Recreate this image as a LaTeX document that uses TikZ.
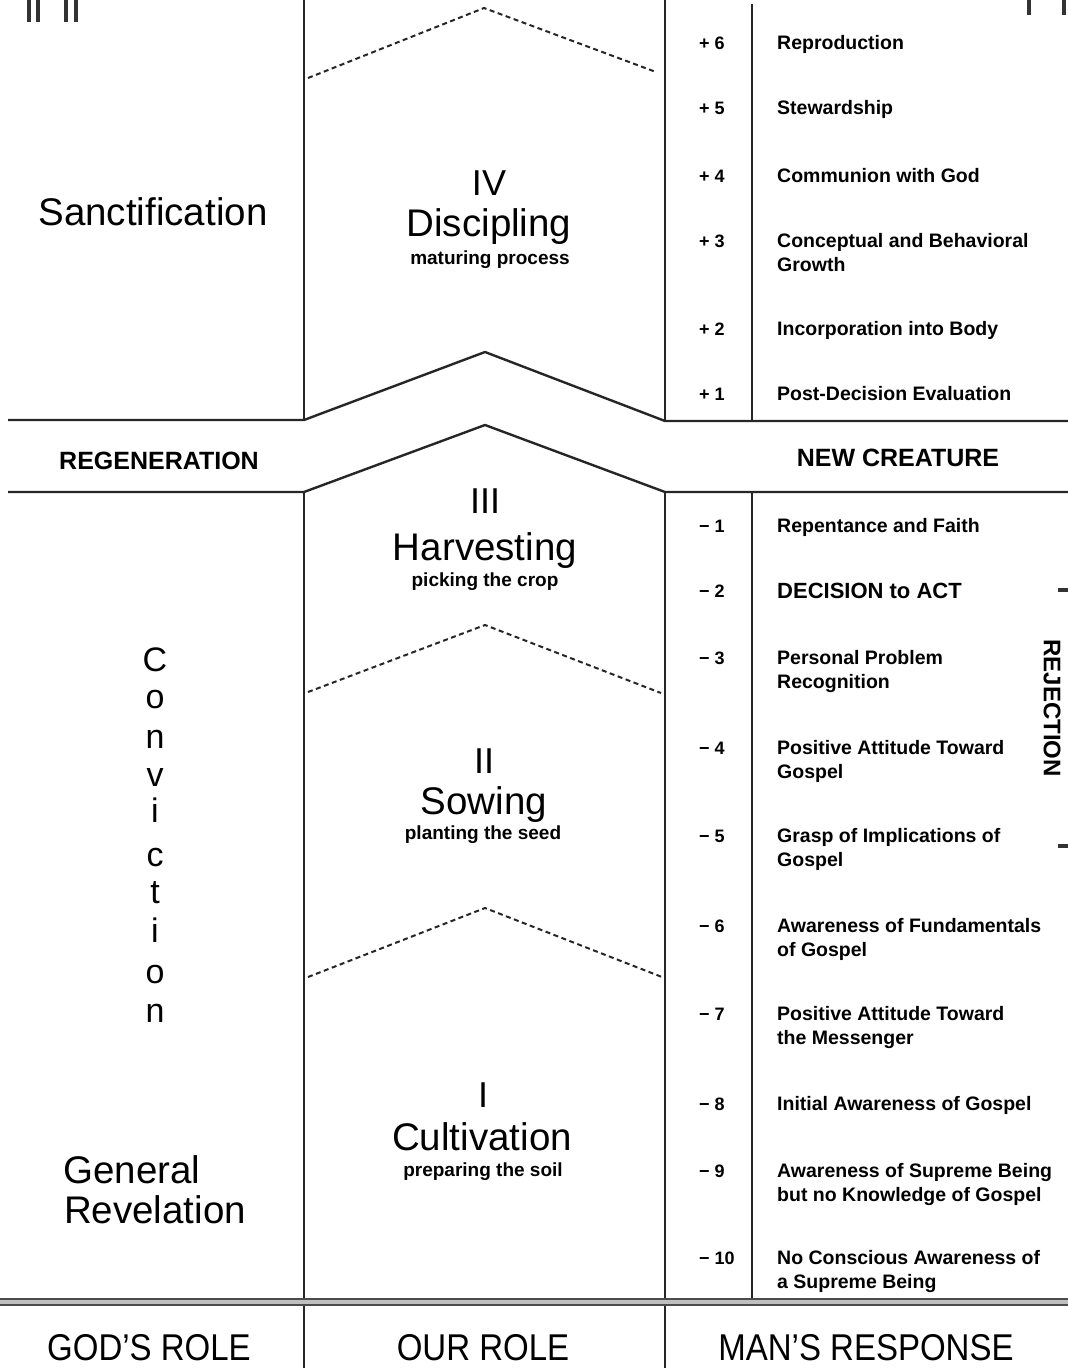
\documentclass[tikz,border=0pt]{standalone}
\usepackage{fontspec}
\setmainfont{Liberation Sans}
\newcommand\fsz[1]{\fontsize{#1}{#1}\selectfont}
\newcommand\tallr[1]{\scalebox{1}[1.13]{#1}}
\begin{document}
\begin{tikzpicture}[x=1pt,y=-1pt,
  rulel/.style={line width=2.4pt,black!85,line join=round},
  vrulel/.style={line width=1.5pt,black!85},
  dchev/.style={line width=2pt,black!85,dash pattern=on 5pt off 3.5pt},
  heavy/.style={line width=8pt,gray!50},
  bigt/.style={inner sep=0pt,anchor=base,font=\fsz{38.5}},
  rom/.style={inner sep=0pt,anchor=base,font=\fsz{36}},
  subt/.style={inner sep=0pt,anchor=base,font=\fsz{19}\bfseries},
  numt/.style={inner sep=0pt,anchor=base west,font=\fsz{18}\bfseries},
  respt/.style={inner sep=0pt,anchor=base west,font=\fsz{19.5}\bfseries},
  capt/.style={inner sep=0pt,anchor=base,font=\fsz{25}\bfseries},
  rolet/.style={inner sep=0pt,anchor=base,font=\fsz{33}},
  letc/.style={inner sep=0pt,anchor=base,font=\fsz{34}},
  tick/.style={line width=3.5pt,black!80}
]
\useasboundingbox (0,0) rectangle (1068,1368);

% ---- key coordinates
\coordinate (aTop) at (485,352); \coordinate (aBot) at (485,425);

% ---- vertical rules
\draw[vrulel] (304,0) -- (304,419);
\draw[vrulel] (665,0) -- (665,421);
\draw[vrulel] (752,4) -- (752,421);
\draw[vrulel] (304,492) -- (304,1368);
\draw[vrulel] (665,492) -- (665,1368);
\draw[vrulel] (752,492) -- (752,1302);

% ---- solid horizontal rules with chevrons
\draw[rulel] (8,420) -- (304,420) -- (aTop) -- (665,421) -- (1068,421);
\draw[rulel] (8,492) -- (304,492) -- (aBot) -- (665,492) -- (1068,492);

% ---- dashed chevrons
\draw[dchev] (308,78) -- (484,8) -- (656,72);
\draw[dchev] (308,692) -- (485,625) -- (661,693);
\draw[dchev] (308,977) -- (485,908) -- (662,977);

% ---- heavy bottom rule
\draw[heavy] (0,1302) -- (1068,1302);
\draw[line width=1.2pt,black!70] (0,1299) -- (1068,1299);
\draw[line width=1.2pt,black!70] (0,1305) -- (1068,1305);

% ---- small marks at edges
\draw[tick] (29,0) -- (29,22); \draw[tick] (38,0) -- (38,22);
\draw[tick] (66,0) -- (66,22); \draw[tick] (76,0) -- (76,22);
\draw[tick] (1029,0) -- (1029,15); \draw[tick] (1064,0) -- (1064,15);
\draw[tick] (1058,590) -- (1068,590);
\draw[tick] (1058,846) -- (1068,846);

% ---- God's role column
\node[bigt] (sanct) at (153,225) {Sanctification};
\node[capt] (regen) at (159,469) {REGENERATION};
\node[letc] (c1) at (155,671) {C};
\node[letc] (c2) at (155,708) {o};
\node[letc] (c3) at (155,748) {n};
\node[letc] (c4) at (155,786) {v};
\node[letc] (c5) at (155,822) {i};
\node[letc] (c6) at (155,866) {c};
\node[letc] (c7) at (155,903) {t};
\node[letc] (c8) at (155,942) {i};
\node[letc] (c9) at (155,983) {o};
\node[letc] (c10) at (155,1022) {n};
\node[bigt] (gen) at (132,1183) {General};
\node[bigt] (rev) at (155,1223) {Revelation};
\node[rolet] (godr) at (149,1360) {\tallr{GOD'S ROLE}};

% ---- Our role column
\node[rom] (r4) at (489,195) {IV};
\node[bigt] (disc) at (489,236) {Discipling};
\node[subt] (discs) at (490,264) {maturing process};
\node[rom] (r3) at (485,513) {III};
\node[bigt] (harv) at (485,560) {Harvesting};
\node[subt] (harvs) at (485,586) {picking the crop};
\node[rom] (r2) at (484,773) {II};
\node[bigt] (sow) at (484,814) {Sowing};
\node[subt] (sows) at (483,839) {planting the seed};
\node[rom] (r1) at (483,1107) {I};
\node[bigt] (cult) at (482,1150) {Cultivation};
\node[subt] (cults) at (483,1176) {preparing the soil};
\node[rolet] (ourr) at (483,1360) {\tallr{OUR ROLE}};

% ---- Man's response column
\node[capt] (newc) at (898,466) {NEW CREATURE};
\node[rolet] (manr) at (866,1360) {\tallr{MAN'S RESPONSE}};
\node[inner sep=0pt,rotate=-90,font=\fsz{24}\bfseries] (rej) at (1052,708) {REJECTION};

\foreach \yy/\nn/\la/\lb [count=\k] in {
  42/{+ 6}/{Reproduction}/{},
  107/{+ 5}/{Stewardship}/{},
  175/{+ 4}/{Communion with God}/{},
  240/{+ 3}/{Conceptual and Behavioral}/{Growth},
  328/{+ 2}/{Incorporation into Body}/{},
  393/{+ 1}/{Post-Decision Evaluation}/{},
  525/{− 1}/{Repentance and Faith}/{},
  657/{− 3}/{Personal Problem}/{Recognition},
  747/{− 4}/{Positive Attitude Toward}/{Gospel},
  835/{− 5}/{Grasp of Implications of}/{Gospel},
  925/{− 6}/{Awareness of Fundamentals}/{of Gospel},
  1013/{− 7}/{Positive Attitude Toward}/{the Messenger},
  1103/{− 8}/{Initial Awareness of Gospel}/{},
  1170/{− 9}/{Awareness of Supreme Being}/{but no Knowledge of Gospel},
  1257/{− 10}/{No Conscious Awareness of}/{a Supreme Being}}{
  \node[numt] (num\k) at (699,\yy+7) {\nn};
  \node[respt] (resa\k) at (777,\yy+7) {\la};
  \node[respt] (resb\k) at (777,\yy+31) {\lb};
}
\node[numt] (numd) at (699,597) {− 2};
\node[respt,font=\fsz{22}\bfseries] (dec) at (777,598) {DECISION to ACT};
\end{tikzpicture}
\end{document}
